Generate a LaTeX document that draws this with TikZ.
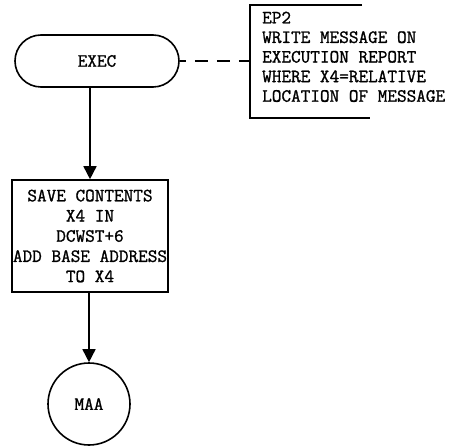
\documentclass[tikz,border=0pt]{standalone}
\usepackage{fontspec}
\newfontfamily\twfont{Latin Modern Mono}[FakeBold=1.2]
\usetikzlibrary{arrows.meta}
\begin{document}
\begin{tikzpicture}[x=1pt,y=1pt,
  every node/.style={font=\fontsize{18.7}{20.2}\selectfont\twfont, inner sep=0pt},
  ln/.style={line width=1.6pt},
  term/.style={ln, draw, rectangle, rounded corners=26pt, minimum width=164pt, minimum height=52pt},
  proc/.style={ln, draw, rectangle, align=center, minimum width=156pt, minimum height=112pt},
  conn/.style={ln, draw, circle, minimum size=82pt},
  flow/.style={ln, -{Triangle[length=13pt,width=13pt]}},
  notebox/.style={align=left, anchor=north west, inner xsep=12pt, inner ysep=6.5pt,
    font=\fontsize{18.7}{19.6}\selectfont\twfont}]
\useasboundingbox (0,0) rectangle (463,-446);
\node[term] (exec) at (97,-61) {EXEC};
\node[proc] (save) at (90,-236) {SAVE CONTENTS\\X4 IN\\DCWST+6\\ADD BASE ADDRESS\\TO X4};
\node[conn] (maa) at (89,-404) {MAA};
\node[notebox] (note) at (250,-5) {EP2\\WRITE MESSAGE ON\\EXECUTION REPORT\\WHERE X4=RELATIVE\\LOCATION OF MESSAGE};
\draw[ln] ([xshift=112pt]note.north west) -- (note.north west) -- ++(0,-113) -- ++(120,0);
\draw[ln, dash pattern=on 13pt off 9pt, dash phase=7pt] (exec.east) -- (exec.east -| note.west);
\draw[flow] (exec.south -| save.north) -- (save.north);
\draw[flow] (save.south -| maa.north) -- (maa.north);
\end{tikzpicture}
\end{document}
